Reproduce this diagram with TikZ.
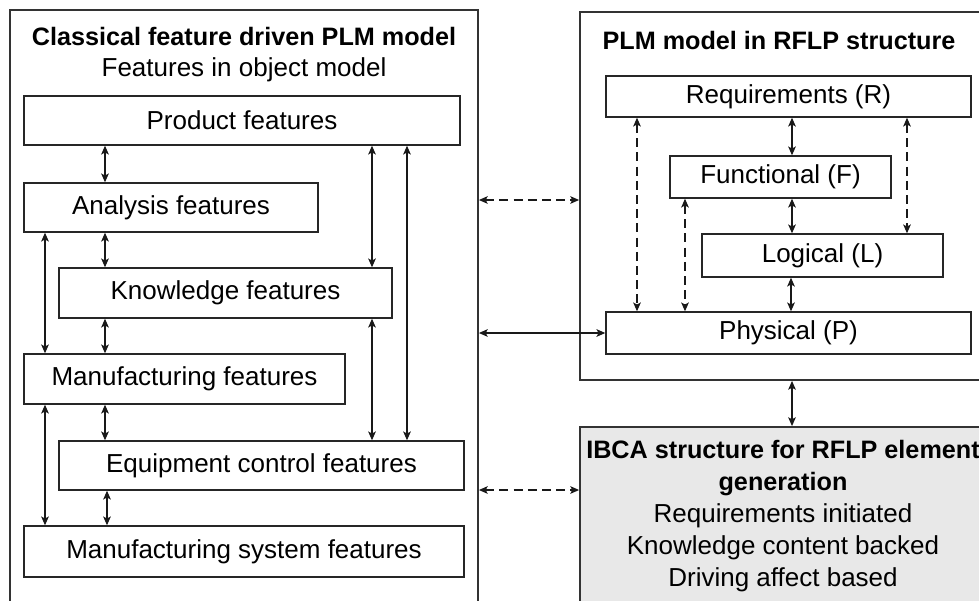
\documentclass[tikz,border=0pt]{standalone}
\usepackage{fontspec}
\setmainfont{Liberation Sans}
\usetikzlibrary{arrows.meta}
\begin{document}
\begin{tikzpicture}[x=0.5pt,y=-0.5pt,
  box/.style={draw=black!85, line width=0.7pt, inner sep=0pt, fill=white, font=\fontsize{13}{15}\selectfont},
  outer/.style={draw=black!80, line width=0.9pt, inner sep=0pt},
  ttl/.style={font=\fontsize{12.6}{15}\selectfont\bfseries, inner sep=0pt},
  sub/.style={font=\fontsize{13}{15}\selectfont, inner sep=0pt},
  arr/.style={line width=0.65pt, draw=black!90, {Stealth[length=4.4pt,width=3.8pt,inset=1pt]}-{Stealth[length=4.4pt,width=3.8pt,inset=1pt]}},
  darr/.style={arr, dash pattern=on 4.5pt off 2.6pt},
]
\useasboundingbox (0,0) rectangle (979,600);
\clip (0,0) rectangle (979,600);
\fill[white] (0,0) rectangle (979,600);

% outer frames
\node[outer, minimum width=234pt, minimum height=305pt] (left) at (244,315) {};
\node[outer, minimum width=203pt, minimum height=184pt] (rflp) at (783,196) {};
\node[outer, fill=black!9, minimum width=203pt, minimum height=106.5pt] (ibca) at (783,533.5) {};

% titles
\node[ttl] (lt) at (244,36) {Classical feature driven PLM model};
\node[sub] (ls) at (244,70) {Features in object model};
\node[ttl] (rt) at (779,40) {PLM model in RFLP structure};
\node[align=center, inner sep=0pt, font=\fontsize{13}{16}\selectfont] (it) at (783,516)
  {{\fontsize{12.6}{16}\selectfont\bfseries IBCA structure for RFLP element}\\
   {\fontsize{12.6}{16}\selectfont\bfseries generation}\\
   Requirements initiated\\
   Knowledge content backed\\
   Driving affect based};

% left boxes
\node[box, minimum width=218pt, minimum height=24.5pt] (prod) at (242,120.5) {Product features};
\node[box, minimum width=147pt, minimum height=24.5pt] (anal) at (171,207.5) {Analysis features};
\node[box, minimum width=166.5pt, minimum height=25pt] (know) at (225.5,293) {Knowledge features};
\node[box, minimum width=160.5pt, minimum height=25pt] (manu) at (184.5,379) {Manufacturing features};
\node[box, minimum width=202.5pt, minimum height=24.5pt] (equi) at (261.5,465.5) {Equipment control features};
\node[box, minimum width=220pt, minimum height=25.5pt] (msys) at (244,551.5) {Manufacturing system features};

% right boxes
\node[box, minimum width=182.5pt, minimum height=20.5pt] (req) at (788.5,96.5) {Requirements (R)};
\node[box, minimum width=110.5pt, minimum height=21pt] (fun) at (780.5,177) {Functional (F)};
\node[box, minimum width=120.5pt, minimum height=21.5pt] (log) at (822.5,255.5) {Logical (L)};
\node[box, minimum width=182.5pt, minimum height=21pt] (phy) at (788.5,333) {Physical (P)};

% column / row helpers
\coordinate (cA) at (105,0);
\coordinate (cB) at (107,0);
\coordinate (cL) at (45,0);
\coordinate (cK) at (372,0);
\coordinate (cE) at (407,0);
\coordinate (cM) at (792,0);
\coordinate (cN) at (791,0);
\coordinate (cR) at (637,0);
\coordinate (cF) at (685,0);
\coordinate (cG) at (907,0);
\coordinate (r1) at (0,200);
\coordinate (r3) at (0,490);

% left arrows
\draw[arr] (prod.south -| cA) -- (anal.north -| cA);
\draw[arr] (anal.south -| cA) -- (know.north -| cA);
\draw[arr] (know.south -| cA) -- (manu.north -| cA);
\draw[arr] (manu.south -| cA) -- (equi.north -| cA);
\draw[arr] (equi.south -| cB) -- (msys.north -| cB);
\draw[arr] (anal.south -| cL) -- (manu.north -| cL);
\draw[arr] (manu.south -| cL) -- (msys.north -| cL);
\draw[arr] (prod.south -| cK) -- (know.north -| cK);
\draw[arr] (know.south -| cK) -- (equi.north -| cK);
\draw[arr] (prod.south -| cE) -- (equi.north -| cE);

% right arrows
\draw[arr] (req.south -| cM) -- (fun.north -| cM);
\draw[arr] (fun.south -| cM) -- (log.north -| cM);
\draw[arr] (log.south -| cN) -- (phy.north -| cN);
\draw[darr] (req.south -| cR) -- (phy.north -| cR);
\draw[darr] (fun.south -| cF) -- (phy.north -| cF);
\draw[darr] (req.south -| cG) -- (log.north -| cG);

% between panels
\draw[darr] (left.east |- r1) -- (rflp.west |- r1);
\draw[arr] (left.east |- phy.west) -- (phy.west);
\draw[darr] (left.east |- r3) -- (ibca.west |- r3);
\draw[arr] (rflp.south -| cM) -- (ibca.north -| cM);
\end{tikzpicture}
\end{document}
